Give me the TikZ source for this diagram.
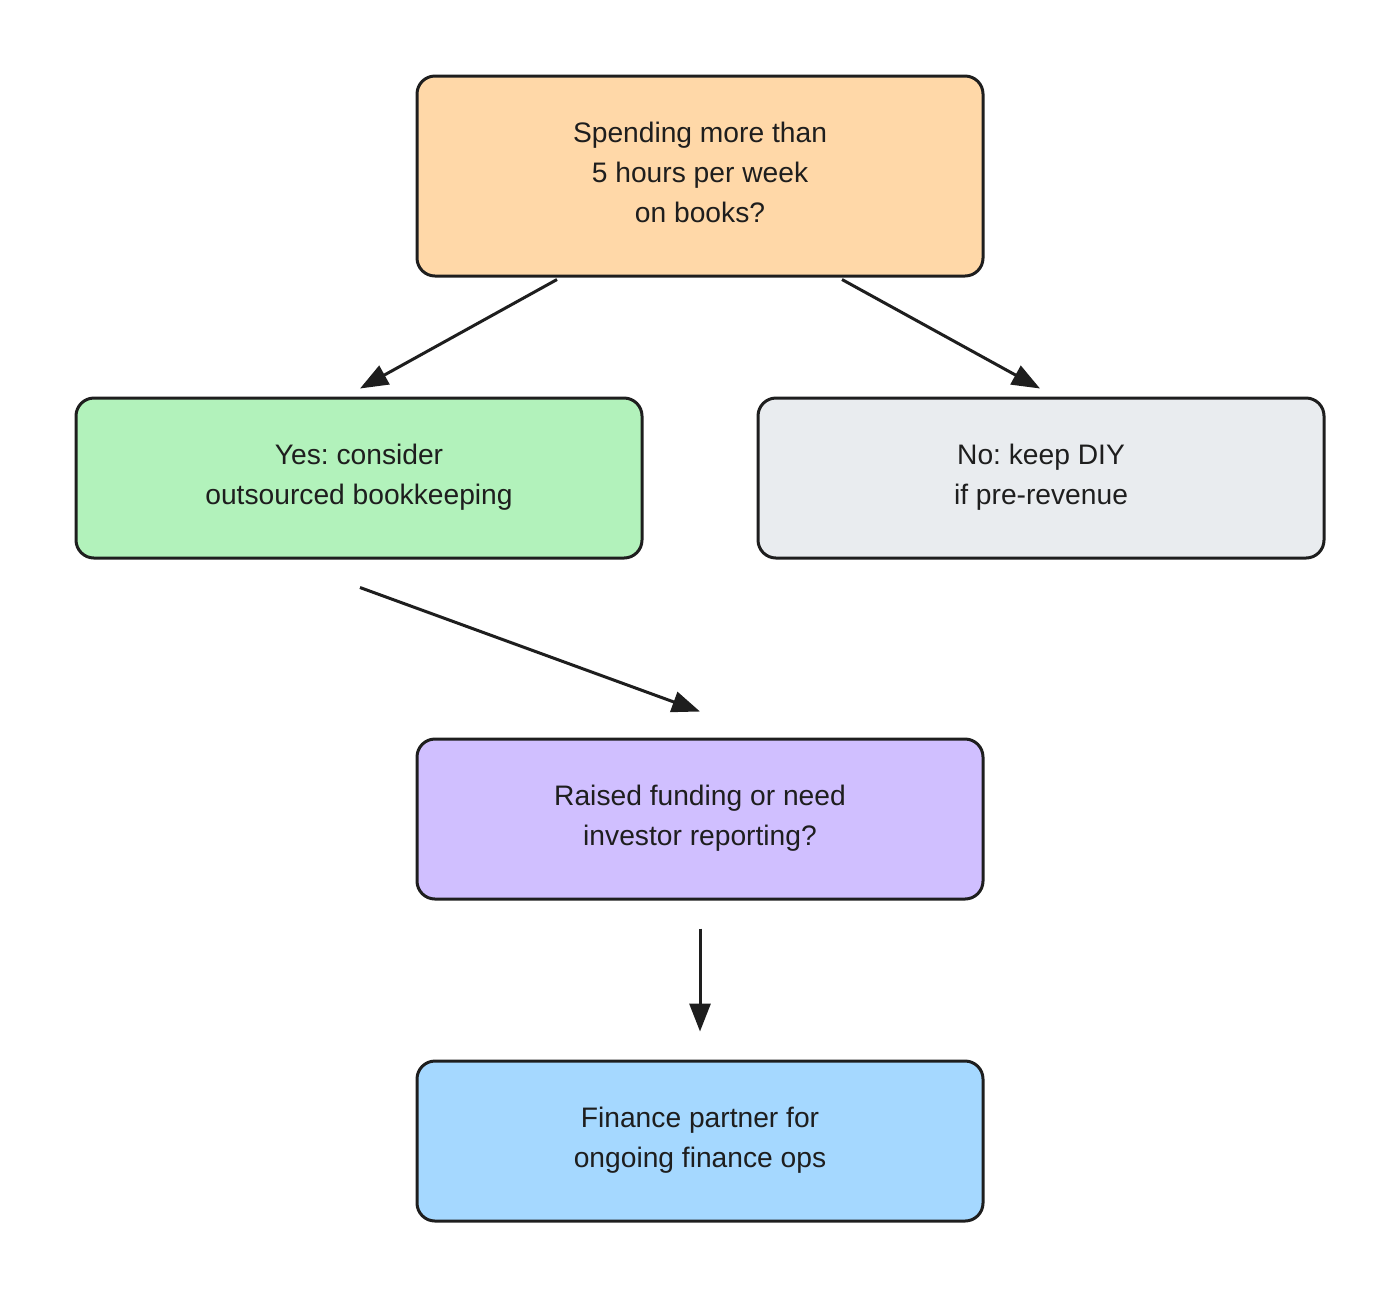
\documentclass[tikz,border=0pt]{standalone}
\usepackage{fontspec}
\setmainfont{Liberation Sans}
\usepackage{tikz}
\usetikzlibrary{arrows.meta}
\frenchspacing

\definecolor{inkc}{HTML}{1E1E1E}
\definecolor{askc}{HTML}{FFD8A8}
\definecolor{yesc}{HTML}{B2F2BB}
\definecolor{noc}{HTML}{E9ECEF}
\definecolor{fundc}{HTML}{D0BFFF}
\definecolor{opsc}{HTML}{A5D8FF}

\begin{document}
\begin{tikzpicture}[x=0.5pt,y=-0.5pt,
  box/.style={draw=inkc,line width=1.5pt,rounded corners=9pt,minimum width=283pt,minimum height=80pt,
    align=center,text=inkc,text depth=3.5pt,font=\fontsize{14.1}{20}\selectfont},
  arr/.style={draw=inkc,line width=1.5pt,-{Triangle[length=14pt,width=10.5pt]}}]
\useasboundingbox (0,0) rectangle (1400,1298);
\node[box,fill=askc,minimum height=100pt] (q) at (700,176) {Spending more than\\5 hours per week\\on books?};
\node[box,fill=yesc] (yes) at (359,478) {Yes: consider\\outsourced bookkeeping};
\node[box,fill=noc] (no) at (1041,478) {No: keep DIY\\if pre-revenue};
\node[box,fill=fundc] (fund) at (700,819) {Raised funding or need\\investor reporting?};
\node[box,fill=opsc] (ops) at (700,1141) {Finance partner for\\ongoing finance ops};
\draw[arr] ([xshift=-71.5pt,yshift=-1pt]q.south) -- ([xshift=0.5pt,yshift=4pt]yes.north);
\draw[arr] ([xshift=71pt,yshift=-1pt]q.south) -- ([xshift=-0.5pt,yshift=4pt]no.north);
\draw[arr] ([xshift=0.5pt,yshift=-14pt]yes.south) -- ([yshift=13pt]fund.north);
\draw[arr] ([yshift=-14pt]fund.south) -- ([yshift=14pt]ops.north);
\end{tikzpicture}
\end{document}
